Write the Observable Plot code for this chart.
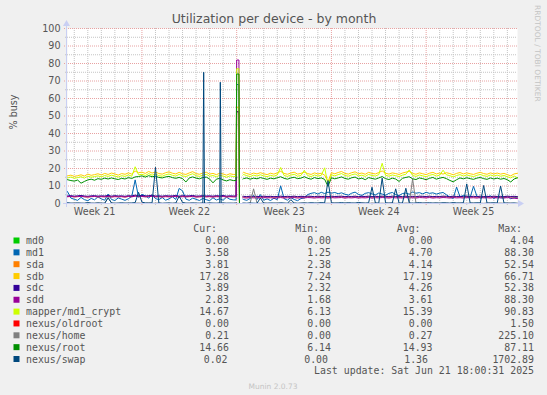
<!DOCTYPE html>
<html><head><meta charset="utf-8">
<script src="https://cdn.jsdelivr.net/npm/d3@7"></script>
<script src="https://cdn.jsdelivr.net/npm/@observablehq/plot@0.6"></script>
<style>
html,body{margin:0;padding:0;background:#F0F0F0;}
#chart svg{display:block;}
</style></head><body><div id="chart"></div>
<script>
// ---- time frame (UTC) ----
const START = Date.UTC(2025, 4, 19, 12);   // May 19 12:00
const END   = Date.UTC(2025, 5, 21, 18);   // Jun 21 18:00
const STEP_H = 6;                          // one value every 6 hours
const N = NaN;

// ---- tick labels ----
const yTicks = [0,10,20,30,40,50,60,70,80,90,100];
const yMinor = [5,15,25,35,45,55,65,75,85,95];
const weekLabels = ["Week 21","Week 22","Week 23","Week 24","Week 25"];
const weekLabelDates = ["2025-05-21T12:00Z","2025-05-28T12:00Z","2025-06-04T12:00Z","2025-06-11T12:00Z","2025-06-18T12:00Z"];

// ---- series (values every 6h, index 0 = May 19 12:00) ----
const seriesNames = ["md0","md1","sda","sdb","sdc","sdd","mapper/md1_crypt","nexus/oldroot","nexus/home","nexus/root","nexus/swap"];
const seriesColors = ["#00CC00","#0066B3","#FF8000","#FFCC00","#330099","#990099","#CCFF00","#FF0000","#808080","#008F00","#00487D"];

const md0 = [0,0,0,0,0,0,0,0,0,0, 0,0,0,0,0,0,0,0,0,0, 0,0,0,0,0,0,0,0,0,0, 0,0,0,0,0,0,0,0,0,0, 0,0,0,0,0,0,0,0,0,0, 0,N, 0,0,0,0,0,0,0,0, 0,0,0,0,0,0,0,0,0,0, 0,0,0,0,0,0,0,0,0,0, 0,0,0,0,0,0,0,0,0,0, 0,0,0,0,0,0,0,0,0,0, 0,0,0,0,0,0,0,0,0,0, 0,0,0,0,0,0,0,0,0,0, 0,0,0,0,0,0,0,0,0,0, 0,0,0,0];
const md1 = [6.8,3.1,2.4,1.8,3.5,2.2,1.6,2.9,2.1,3.8, 2.6,1.9,5.4,2.3,1.7,3.2,2.5,1.8,2.7,4.1, 13.5,3.6,5.2,4.4,3.1,5.0,2.8,2.2,3.4,1.9, 2.6,3.9,2.3,8.6,7.2,2.5,1.8,3.1,2.4,1.7, 2.9,2.2,1.6,3.3,2.0,2.7,1.9,3.6,2.4,2.1, 68,N, 2.3,1.8,2.9,4.6,2.2,5.1,1.9,2.6, 1.7,3.0,2.2,10.1,2.8,1.9,3.4,2.3,1.6,2.8, 3.2,5.1,5.8,6.2,5.4,6.4,5.7,6.5,5.9,6.3, 5.6,6.1,5.3,4.8,5.9,6.5,5.2,4.6,5.8,6.2, 5.5,4.9,6.0,5.4,4.7,5.8,6.3,5.1,4.5,5.7, 6.0,5.3,6.6,5.9,6.2,5.5,6.4,5.8,6.1,5.4, 5.9,6.3,5.0,3.6,2.9,9.4,3.8,4.6,4.1,3.5, 9.8,4.2,3.1,3.6,3.7,4.4,2.8,3.9,3.2,3.3, 4.0,2.7,3.4,3.58];
const sda = [3.9,4.1,3.8,4.0,4.2,3.9,3.7,4.0,4.1,3.8, 4.0,3.9,4.2,3.8,4.1,3.9,4.0,3.7,4.1,3.9, 4.4,4.0,4.2,3.9,4.1,4.3,3.9,4.0,3.8,4.1, 3.9,4.0,4.2,3.8,4.1,3.9,4.0,4.2,3.8,3.9, 4.1,3.9,4.0,3.8,4.1,3.9,4.2,3.8,4.0,3.9, 52.5,N, 3.8,3.6,3.9,3.7,3.8,3.6,3.9,3.7, 3.8,3.6,3.7,3.9,3.6,3.8,3.7,3.9,3.6,3.8, 3.7,3.9,3.8,3.6,3.9,3.7,3.8,3.6,3.9,3.7, 3.8,3.9,3.6,3.8,3.7,3.9,3.6,3.8,3.7,3.9, 3.6,3.8,3.7,3.9,3.8,3.6,3.9,3.7,3.8,3.6, 3.9,3.7,3.8,3.6,3.9,3.8,3.7,3.9,3.6,3.8, 3.7,3.9,3.8,3.6,3.9,3.7,3.8,3.6,3.9,3.7, 3.8,3.6,3.9,3.7,3.8,3.6,3.9,3.7,3.8,3.6, 3.9,3.7,3.8,3.81];
const sdb = [15.8,16.2,15.5,15.9,16.4,15.7,16.8,16.1,16.5,17.0, 16.3,17.2,16.6,17.4,16.9,16.2,17.1,16.7,17.5,16.8, 18.5,17.6,17.9,17.2,18.3,17.4,18.0,17.1,16.8,17.6, 18.1,17.3,16.9,17.8,17.0,16.6,17.5,18.2,17.1,16.7, 17.4,17.9,16.8,17.2,16.5,17.3,16.9,16.2,17.0,16.6, 55,N, 17.8,17.1,16.6,17.4,16.9,17.6,17.0,16.5, 17.3,16.8,17.5,18.4,17.2,16.7,17.4,17.9,16.8,17.2, 18.0,17.1,16.6,17.5,16.9,17.3,16.2,12.5,17.6,17.0, 17.7,18.3,17.2,16.8,17.6,18.1,17.0,17.4,16.7,17.8, 17.2,16.9,17.7,18.6,17.3,16.8,17.5,17.1,16.6,17.4, 17.9,18.4,17.2,16.7,17.5,17.0,16.5,17.3,17.8,16.9, 17.4,16.8,17.6,17.1,16.4,17.2,17.7,16.9,17.5,17.0, 16.6,17.3,17.8,17.1,16.7,17.5,16.9,17.4,16.8,17.2, 16.5,15.8,16.9,17.28];
const sdc = [4.3,4.5,4.2,4.4,4.6,4.3,4.1,4.4,4.5,4.2, 4.4,4.3,4.6,4.2,4.5,4.3,4.4,4.1,4.5,4.3, 4.8,4.4,4.6,4.3,4.5,4.7,4.3,4.4,4.2,4.5, 4.3,4.4,4.6,4.2,4.5,4.3,4.4,4.6,4.2,4.3, 4.5,4.3,4.4,4.2,4.5,4.3,4.6,4.2,4.4,4.3, 52.4,N, 4.1,3.9,4.2,4.0,4.1,3.9,4.2,4.0, 4.1,3.9,4.0,4.2,3.9,4.1,4.0,4.2,3.9,4.1, 4.0,4.2,4.1,3.9,4.2,4.0,4.1,3.9,4.2,4.0, 4.1,4.2,3.9,4.1,4.0,4.2,3.9,4.1,4.0,4.2, 3.9,4.1,4.0,4.2,4.1,3.9,4.2,4.0,4.1,3.9, 4.2,4.0,4.1,3.9,4.2,4.1,4.0,4.2,3.9,4.1, 4.0,4.2,4.1,3.9,4.2,4.0,4.1,3.9,4.2,4.0, 4.1,3.9,4.2,4.0,4.1,3.9,4.2,4.0,4.1,3.9, 4.2,4.0,4.1,3.89];
const sdd = [3.9,4.0,3.8,3.9,4.1,3.8,3.7,3.9,4.0,3.8, 3.9,3.8,4.0,3.7,3.9,3.8,3.9,3.7,4.0,3.8, 4.2,3.9,4.0,3.8,3.9,4.1,3.8,3.9,3.7,3.9, 3.8,3.9,4.0,3.7,3.9,3.8,3.9,4.0,3.7,3.8, 3.9,3.8,3.9,3.7,3.9,3.8,4.0,3.7,3.9,3.8, 82,N, 3.3,3.1,3.4,3.2,3.3,3.1,3.4,3.2, 3.3,3.1,3.2,3.4,3.1,3.3,3.2,3.4,3.1,3.3, 3.2,3.4,3.3,3.1,3.4,3.2,3.3,3.1,3.4,3.2, 3.3,3.4,3.1,3.3,3.2,3.4,3.1,3.3,3.2,3.4, 3.1,3.3,3.2,3.4,3.3,3.1,3.4,3.2,3.3,3.1, 3.4,3.2,3.3,3.1,3.4,3.3,3.2,3.4,3.1,3.3, 3.2,3.4,3.3,3.1,3.4,3.2,3.3,3.1,3.4,3.2, 3.3,3.1,3.4,3.2,3.3,3.1,3.4,3.2,3.3,3.1, 3.4,3.2,3.0,2.83];
const mapper = [14.6,15.1,14.4,14.8,15.3,14.5,15.6,15.0,15.4,15.8, 15.2,16.0,15.5,16.2,15.7,15.1,15.9,15.5,16.3,15.6, 21.0,16.4,16.7,16.0,17.1,16.2,16.8,15.9,15.6,16.4, 16.9,16.1,15.7,16.6,15.8,15.4,16.3,17.0,15.9,15.5, 16.2,16.7,15.6,16.0,15.3,16.1,15.7,15.0,15.8,15.4, 77,N, 16.6,15.9,15.4,16.2,15.7,16.4,15.8,15.3, 16.1,15.6,16.3,20.6,16.0,15.5,16.2,16.7,15.6,16.0, 18.9,15.9,15.4,16.3,15.7,16.1,20.4,10.8,16.4,15.8, 16.5,17.1,16.0,15.6,16.4,16.9,15.8,16.2,15.5,16.6, 16.0,15.7,16.5,23.0,16.1,15.6,16.3,15.9,15.4,16.2, 16.7,19.2,16.0,15.5,16.3,15.8,15.3,16.1,16.6,15.7, 16.2,19.0,16.4,15.9,15.2,16.0,16.5,15.7,16.3,15.8, 15.4,16.1,16.6,15.9,15.5,16.3,15.7,16.2,15.6,16.0, 15.3,14.6,15.7,14.67];
const oldroot = [0,0,0,0,0,0,0,0,0,0, 0,0,0,0,0,0,0,0,0,0, 0,0,0,0,0,0,0,0,0,0, 0,0,0,0,0,0,0,0,0,0, 0,0,0,0,0,0,0,0,0,0, 0,N, 0,0,0,0,0,0,0,0, 0,0,0,0,0,0,0,0,0,0, 0,0,0,0,0,0,0,0,0,0, 0,0,0,0,0,0,0,0,0,0, 0,0,0,0,0,0,0,0,0,0, 0,0,0,0,0,0,0,0,0,0, 0,0,0,0,0,0,0,0,0,0, 0,0,0,0,0,0,0,0,0,0, 0,0,0,0];
const home = [0.2,0.1,0.3,0.2,0.1,0.2,0.4,0.1,0.2,0.3, 0.1,0.2,3.6,0.3,0.1,0.2,0.1,0.3,0.2,0.1, 0.2,0.3,0.1,0.2,0.4,0.1,0.2,0.3,0.1,0.2, 0.1,0.2,0.3,0.1,0.2,0.1,0.3,0.2,0.1,0.2, 0.3,0.1,0.2,0.1,0.2,0.3,0.1,0.2,0.1,0.2, 0.3,N, 0.2,0.1,0.3,8.4,0.2,0.1,0.3,0.2, 0.1,0.2,0.3,0.1,0.2,0.1,0.3,0.2,0.1,0.2, 0.3,0.1,0.2,0.1,0.2,0.3,0.1,0.2,0.1,0.3, 0.2,0.1,0.2,0.3,0.1,0.2,0.1,0.3,0.2,0.1, 0.2,0.3,0.1,0.2,0.1,0.2,0.3,0.1,0.2,0.1, 0.3,0.2,14.1,0.2,0.1,0.3,0.2,0.1,0.2,0.3, 0.1,0.2,0.3,0.1,0.2,0.1,0.3,0.2,0.1,0.2, 0.3,0.1,0.2,0.1,0.3,0.2,0.1,0.2,0.3,0.1, 0.2,0.3,0.1,0.21];
const root = [13.6,13.1,12.8,13.4,11.6,12.6,13.5,13.9,13.3,14.2, 13.8,14.5,14.0,14.6,14.1,13.7,14.4,14.0,14.8,14.3, 15.2,15.4,15.8,15.1,15.9,15.3,15.6,14.9,14.6,15.2, 15.5,14.8,14.4,14.9,14.2,12.3,14.6,15.2,14.5,14.1, 14.8,15.1,14.0,11.8,13.9,14.4,13.5,12.9,13.6,13.1, 74,N, 14.2,14.6,13.9,14.5,14.1,14.8,14.3,13.8, 14.5,14.1,14.7,15.3,14.4,13.9,14.6,15.0,14.2,14.5, 15.3,14.4,13.9,14.8,14.2,14.6,13.8,9.8,14.7,14.1, 14.6,15.2,14.3,13.9,14.7,15.1,14.0,14.5,13.6,14.8, 14.3,13.9,14.6,15.4,14.2,13.7,14.5,14.0,12.6,14.4, 14.9,15.3,14.1,13.7,14.6,14.2,13.6,14.4,14.9,13.9, 14.5,14.9,14.2,13.2,12.4,13.6,14.6,14.1,14.7,14.2, 13.8,14.5,14.9,14.2,13.8,14.6,14.0,14.5,13.9,14.3, 13.6,12.3,14.0,14.66];
const swap = [0.4,0.2,0.1,0.3,0.2,0.1,0.5,0.2,0.1,0.3, 0.2,0.1,3.2,0.3,0.1,0.2,0.4,0.1,0.2,0.3, 0.5,6.4,0.8,0.3,0.2,0.4,20.7,0.3,0.1,0.2, 0.3,0.1,0.2,4.2,0.6,0.2,0.1,0.3,0.2,0.1, 0.2,0.1,0.3,0.2,0.1,0.2,0.3,0.1,0.2,0.1, 0.2,N, 0.2,0.1,0.3,0.2,0.1,3.1,0.2,0.1, 0.3,0.2,0.1,0.4,0.2,0.1,2.2,0.3,0.1,0.2, 0.3,0.2,0.4,0.3,0.2,0.5,0.3,13.1,0.4,0.2, 0.3,0.5,0.2,0.4,0.3,0.2,0.6,0.3,0.2,0.4, 9.3,0.3,0.2,14.5,0.4,0.2,0.3,8.4,0.2,0.3, 8.7,0.4,0.2,0.3,0.5,0.2,0.3,0.4,0.2,0.3, 0.2,0.4,0.3,0.2,0.5,0.3,0.2,0.4,11.2,0.3, 0.2,0.4,0.3,10.3,0.2,0.3,0.4,0.2,10.0,0.3, 0.2,0.1,0.3,0.02];

// extra samples between the 6h steps: [hours after start, value]
const md0Extra     = [[311,0]];
const md1Extra     = [[299,2.0],[304,68],[305,0],[311,2.5]];
const sdaExtra     = [[299,3.9],[304,52.5],[305,0],[311,3.8]];
const sdbExtra     = [[299,16.6],[304,55],[305,0],[311,17.5]];
const sdcExtra     = [[299,4.3],[304,52.4],[305,0],[311,4.1]];
const sddExtra     = [[299,3.8],[304,82],[305,0],[311,3.4]];
const mapperExtra  = [[299,15.4],[304,77],[305,0],[311,16.2]];
const oldrootExtra = [[311,0]];
const homeExtra    = [[311,0.2]];
const rootExtra    = [[299,13.1],[304,74],[305,0],[311,14.0]];
const swapExtra    = [[241.5,75.0],[243,0.2],[271,69.3],[272.5,0.2],[311,0.2]];

const seriesValues = [md0, md1, sda, sdb, sdc, sdd, mapper, oldroot, home, root, swap];
const seriesExtras = [md0Extra, md1Extra, sdaExtra, sdbExtra, sdcExtra, sddExtra, mapperExtra, oldrootExtra, homeExtra, rootExtra, swapExtra];

// ---- legend numbers ----
const curVals = ["0.00","3.58","3.81","17.28","3.89","2.83","14.67","0.00","0.21","14.66","0.02"];
const minVals = ["0.00","1.25","2.38","7.24","2.32","1.68","6.13","0.00","0.00","6.14","0.00"];
const avgVals = ["0.00","4.70","4.14","17.19","4.26","3.61","15.39","0.00","0.27","14.93","1.36"];
const maxVals = ["4.04","88.30","52.54","66.71","52.38","88.30","90.83","1.50","225.10","87.11","1702.89"];
const legendHeaders = ["Cur:","Min:","Avg:","Max:"];
const lastUpdate = "Last update: Sat Jun 21 18:00:31 2025";

// ---- build tables ----
const H = 3600e3;
const tables = seriesValues.map((vals, s) => {
  const rows = vals.map((v, i) => ({h: i * STEP_H, v}));
  seriesExtras[s].forEach(([h, v]) => rows.push({h, v}));
  rows.sort((a, b) => a.h - b.h);
  return rows.map(r => ({date: new Date(START + r.h * H), v: r.v}));
});

const days = d3.utcDay.range(new Date(START), new Date(END));
const weeks = d3.utcSunday.range(new Date(START), new Date(END));
const minorDays = days.filter(d => d.getUTCDay() !== 0);
const labelDates = weekLabelDates.map(s => new Date(s));
const labelMap = new Map(labelDates.map((d, i) => [+d, weekLabels[i]]));

const GRID = "#c4c4c4", MGRID = "#e8a2a2", AXIS = "#c9cff3", FONT = "#555";

const plot = Plot.plot({
  width: 547, height: 395,
  marginLeft: 67, marginRight: 30, marginTop: 28, marginBottom: 192,
  style: {background: "#F0F0F0", fontFamily: "DejaVu Sans", fontSize: "9.6px", color: FONT, overflow: "visible"},
  x: {type: "utc", domain: [new Date(START), new Date(END)]},
  y: {domain: [0, 100]},
  marks: [
    Plot.frame({fill: "white", stroke: null}),
    Plot.gridX(minorDays, {stroke: GRID, strokeOpacity: 1, strokeDasharray: "1,1", insetBottom: -2}),
    Plot.gridY(yMinor, {stroke: GRID, strokeOpacity: 1, strokeDasharray: "1,1", insetLeft: -2}),
    Plot.gridX(weeks, {stroke: MGRID, strokeOpacity: 1, strokeDasharray: "1,1", insetBottom: -3}),
    Plot.gridY(yTicks.filter(t => t > 0), {stroke: MGRID, strokeOpacity: 1, strokeDasharray: "1,1", insetLeft: -3}),
    ...tables.map((t, s) => Plot.line(t, {x: "date", y: "v", stroke: seriesColors[s], strokeWidth: 1})),
    Plot.axisY({ticks: yTicks, tickSize: 0, tickPadding: 7, label: null, fill: FONT}),
    Plot.axisX({ticks: labelDates, tickFormat: d => labelMap.get(+d), tickSize: 0, tickPadding: 5, label: null, fill: FONT})
  ]
});
document.getElementById("chart").appendChild(plot);

// ---- rrdtool-style decorations ----
const svg = d3.select(plot);
const X0 = 66.5, Y0 = 203.5;
svg.append("line").attr("x1", 63).attr("x2", 519).attr("y1", Y0).attr("y2", Y0).attr("stroke", AXIS);
svg.append("line").attr("x1", X0).attr("x2", X0).attr("y1", 207).attr("y2", 25).attr("stroke", AXIS);
svg.append("path").attr("d", `M518,200L524,${Y0}L518,207Z`).attr("fill", AXIS);
svg.append("path").attr("d", `M63,26L${X0},20L70,26Z`).attr("fill", AXIS);

svg.append("text").attr("x", 274).attr("y", 23).attr("text-anchor", "middle")
  .attr("font-family", "DejaVu Sans").attr("font-size", 12.5).attr("fill", FONT)
  .text("Utilization per device - by month");
svg.append("text").attr("transform", "translate(17,112) rotate(-90)").attr("text-anchor", "middle")
  .attr("font-family", "DejaVu Sans").attr("font-size", 9.6).attr("fill", FONT).text("% busy");
svg.append("text").attr("transform", "translate(535,5) rotate(90)").attr("text-anchor", "start")
  .attr("font-family", "DejaVu Sans").attr("font-size", 7.5).attr("fill", "#c4c4c4").text("RRDTOOL / TOBI OETIKER");
svg.append("text").attr("x", 273).attr("y", 388.5).attr("text-anchor", "middle")
  .attr("font-family", "DejaVu Sans").attr("font-size", 7.5).attr("fill", "#c4c4c4").text("Munin 2.0.73");

// ---- legend ----
const CW = 5.97;
const colEnds = [229, 331, 432.5, 534];
const lg = svg.append("g").attr("font-family", "DejaVu Sans Mono").attr("font-size", 9.9).attr("fill", FONT).attr("text-anchor", "start");
const rowY = i => 240.5 + i * 11.85;
legendHeaders.forEach((h, k) => lg.append("text").attr("x", colEnds[k] - 2 * CW).attr("y", 228 + 3.5).attr("text-anchor", "end").text(h));
seriesNames.forEach((name, i) => {
  const y = rowY(i);
  lg.append("rect").attr("x", 13.5).attr("y", y - 3).attr("width", 6).attr("height", 6).attr("fill", seriesColors[i]);
  lg.append("text").attr("x", 26).attr("y", y + 3.5).attr("text-anchor", "start").text(name);
  const extra = Math.max(0, maxVals[i].length - 6) * CW / 4;
  [curVals[i], minVals[i], avgVals[i], maxVals[i]].forEach((v, k) => {
    const shift = k < 3 ? extra * (k + 1) : 0;
    lg.append("text").attr("x", colEnds[k] - shift).attr("y", y + 3.5).attr("text-anchor", "end").text(v);
  });
});
lg.append("text").attr("x", colEnds[3]).attr("y", rowY(11) + 3.5).attr("text-anchor", "end").text(lastUpdate);
</script>
</body></html>
